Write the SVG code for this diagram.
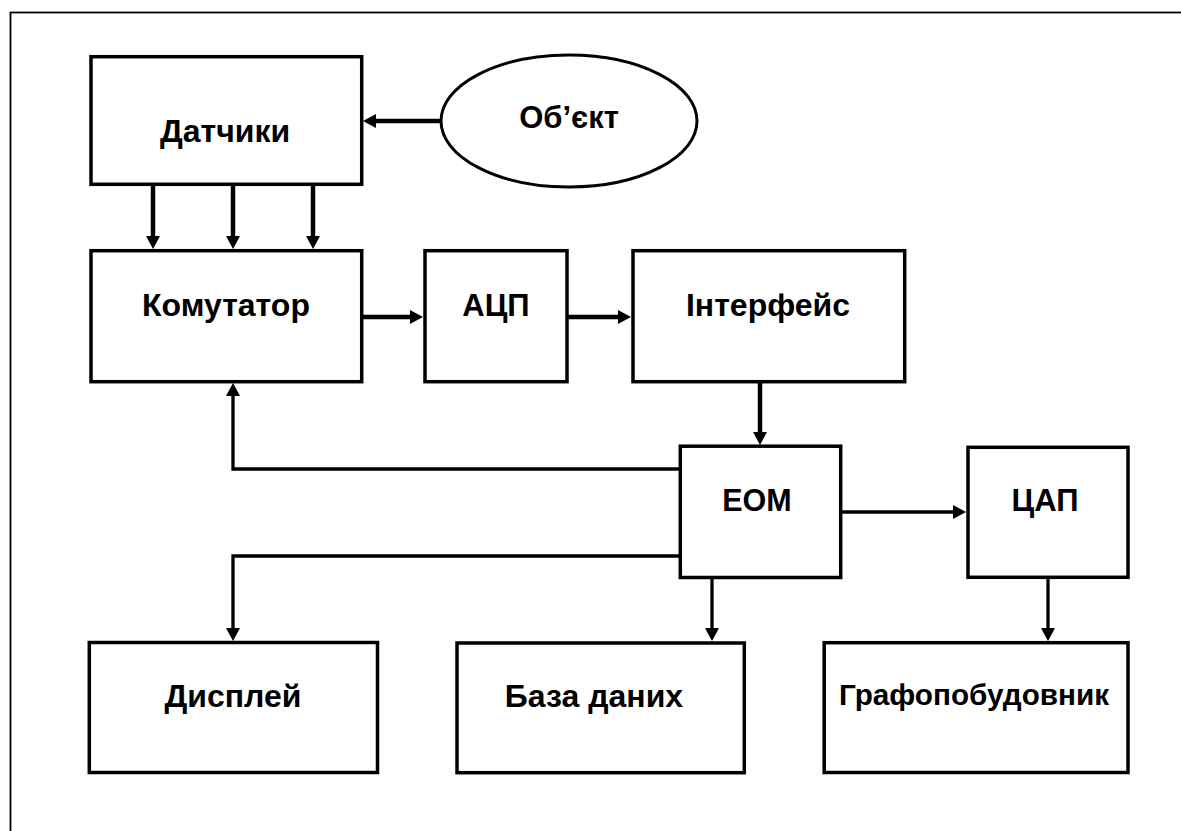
<svg xmlns="http://www.w3.org/2000/svg" width="1181" height="831" viewBox="0 0 1181 831">
<style>
.box{fill:#fff;stroke:#000;stroke-width:3.5}
.lbl{font-family:"Liberation Sans",Arial,sans-serif;font-weight:bold;font-size:32px;fill:#000;text-anchor:middle}
.c1{fill:none;stroke:#000;stroke-width:4.5;stroke-linejoin:miter}
.c2{fill:none;stroke:#000;stroke-width:3.3;stroke-linejoin:miter}
</style>
<defs>
<marker id="ah" viewBox="0 0 13 14" refX="3" refY="7" markerWidth="13" markerHeight="14" markerUnits="userSpaceOnUse" orient="auto">
<path d="M0,0 L13,7 L0,14 z" fill="#000"/>
</marker>
</defs>
<rect width="1181" height="831" fill="#fff"/>
<rect x="10.5" y="12.5" width="1300" height="900" fill="none" stroke="#000" stroke-width="1.8"/>
<g id="connectors">
<path class="c1" d="M441,121 H373" marker-end="url(#ah)"/>
<path class="c1" d="M153,186 V239" marker-end="url(#ah)"/>
<path class="c1" d="M233,186 V239" marker-end="url(#ah)"/>
<path class="c1" d="M313,186 V239" marker-end="url(#ah)"/>
<path class="c1" d="M363,317 H413" marker-end="url(#ah)"/>
<path class="c1" d="M568,317 H621" marker-end="url(#ah)"/>
<path class="c1" d="M760,383 V435" marker-end="url(#ah)"/>
<path class="c2" d="M679,469 H233 V393" marker-end="url(#ah)"/>
<path class="c2" d="M679,556 H233 V631" marker-end="url(#ah)"/>
<path class="c2" d="M712,579 V631" marker-end="url(#ah)"/>
<path class="c2" d="M842,512 H956" marker-end="url(#ah)"/>
<path class="c2" d="M1048,579 V631" marker-end="url(#ah)"/>
</g>
<g id="datchyky">
<rect class="box" x="91" y="56.7" width="270.7" height="127.6"/>
<text class="lbl" x="225" y="141.5">Датчики</text>
</g>
<g id="obiekt">
<ellipse cx="569" cy="121" rx="128" ry="66" fill="#fff" stroke="#000" stroke-width="3"/>
<text class="lbl" x="569" y="128" style="font-size:31px">Об’єкт</text>
</g>
<g id="komutator">
<rect class="box" x="91" y="250.7" width="270.7" height="131"/>
<text class="lbl" x="226" y="315.5">Комутатор</text>
</g>
<g id="atsp">
<rect class="box" x="425" y="250.7" width="142" height="131"/>
<text class="lbl" x="496" y="315.5" style="font-size:31px">АЦП</text>
</g>
<g id="interfeis">
<rect class="box" x="633" y="250.7" width="271.7" height="131"/>
<text class="lbl" x="768" y="316">Інтерфейс</text>
</g>
<g id="eom">
<rect class="box" x="680.3" y="446.2" width="160.4" height="131.3"/>
<text class="lbl" x="757" y="511" style="font-size:30.5px">ЕОМ</text>
</g>
<g id="tsap">
<rect class="box" x="968" y="447.3" width="160" height="130"/>
<text class="lbl" x="1045" y="511" style="font-size:31px">ЦАП</text>
</g>
<g id="dysplei">
<rect class="box" x="89.3" y="642.5" width="288.2" height="130"/>
<text class="lbl" x="233" y="706.5">Дисплей</text>
</g>
<g id="baza">
<rect class="box" x="457" y="643" width="287.3" height="129.7"/>
<text class="lbl" x="594" y="707">База даних</text>
</g>
<g id="grafo">
<rect class="box" x="824.2" y="642.7" width="303.8" height="129.8"/>
<text class="lbl" x="974" y="705" style="font-size:29.7px">Графопобудовник</text>
</g>
</svg>
